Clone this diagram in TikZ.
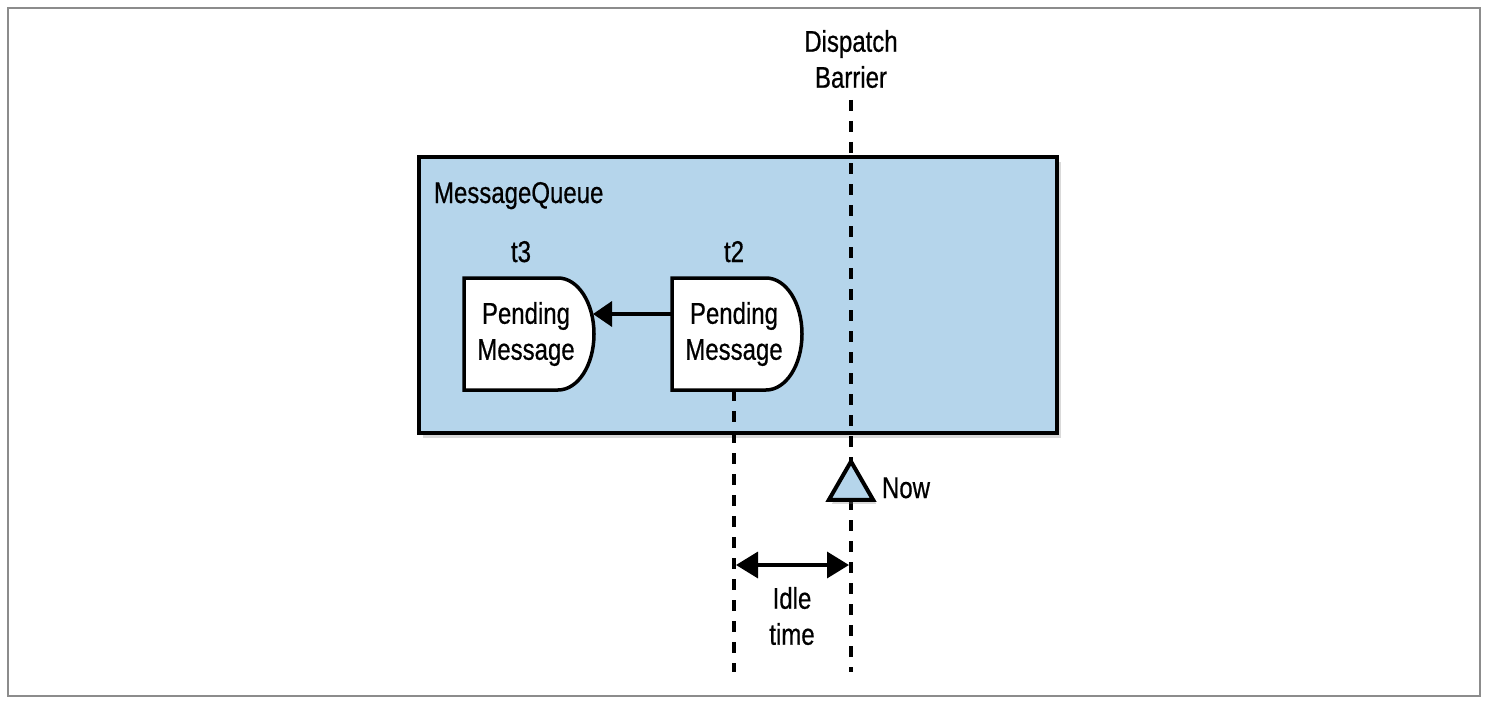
\documentclass[tikz,border=0pt]{standalone}
\usepackage{fontspec}
\setmainfont{Liberation Sans}[FakeStretch=0.8,FakeBold=0.6]
\usetikzlibrary{arrows.meta,shadows,shapes.geometric,calc}
\definecolor{qblue}{RGB}{181,213,235}
\begin{document}
\begin{tikzpicture}[x=1pt,y=-1pt,
  every node/.style={font=\fontsize{30}{36}\selectfont, inner sep=0pt, outer sep=0pt},
  frame/.style={draw=black!45, line width=2pt},
  queuebox/.style={draw=black, line width=4pt, fill=qblue,
    drop shadow={shadow xshift=4pt, shadow yshift=-5pt, opacity=0.3}},
  dshape/.style={draw=black, line width=3.5pt, fill=white},
  dashline/.style={line width=3.5pt, dash pattern=on 11pt off 10pt},
  conn/.style={line width=3.5pt, -{Triangle[length=19pt,width=25pt]}},
  bothconn/.style={line width=3.5pt, {Triangle[length=22pt,width=26pt]}-{Triangle[length=22pt,width=26pt]}},
  nowmark/.style={regular polygon, regular polygon sides=3, minimum size=51pt,
    draw=black, line width=4pt, fill=qblue,
    drop shadow={shadow xshift=3pt, shadow yshift=-4pt, opacity=0.3}},
  txt/.style={align=center}
]
\useasboundingbox (0,0) rectangle (1488,706);
\draw[frame] (8,8) rectangle (1480,696);

% message queue
\node[queuebox, minimum width=638pt, minimum height=276pt] (queue) at (738,295) {};
\node[anchor=base west] (mqlabel) at (434,203) {MessageQueue};

% pending messages (D shapes)
\coordinate (c1) at (526,334);
\coordinate (c2) at (734,334);
\foreach \c in {c1,c2}{
  \draw[dshape] ($(\c)+(-62,-56)$) -- ($(\c)+(32,-56)$)
    .. controls ($(\c)+(52,-56)$) and ($(\c)+(68,-31)$) .. ($(\c)+(68,0)$)
    .. controls ($(\c)+(68,31)$) and ($(\c)+(52,56)$) .. ($(\c)+(32,56)$)
    -- ($(\c)+(-62,56)$) -- cycle;
}
\node[txt] (m1) at (c1) {Pending\\Message};
\node[txt] (m2) at (c2) {Pending\\Message};
\node[anchor=base] (t3) at (521,262) {t3};
\node[anchor=base] (t2) at (734,262) {t2};

\coordinate (m2left) at ($(c2)+(-62,-20)$);
\coordinate (m1right) at ($(c1)+(67,-20)$);
\draw[conn] (m2left) -- (m1right);

% dispatch barrier
\node[txt, anchor=north] (dispatch) at (851,30) {Dispatch\\Barrier};
\coordinate (barTop) at (851,100);
\coordinate (barBot) at (851,672);
\draw[dashline] (barTop) -- (barBot);

% t2 line
\coordinate (t2Top) at (734,390);
\coordinate (t2Bot) at (734,672);
\draw[dashline] (t2Top) -- (t2Bot);

% now marker
\node[nowmark] (now) at (851,487) {};
\node[anchor=base west] (nowlabel) at (882,498) {Now};

% idle time
\coordinate (idleL) at (736,565);
\coordinate (idleR) at (849,565);
\draw[bothconn] (idleL) -- (idleR);
\node[txt, anchor=north] (idle) at (792,587) {Idle\\time};
\end{tikzpicture}
\end{document}
